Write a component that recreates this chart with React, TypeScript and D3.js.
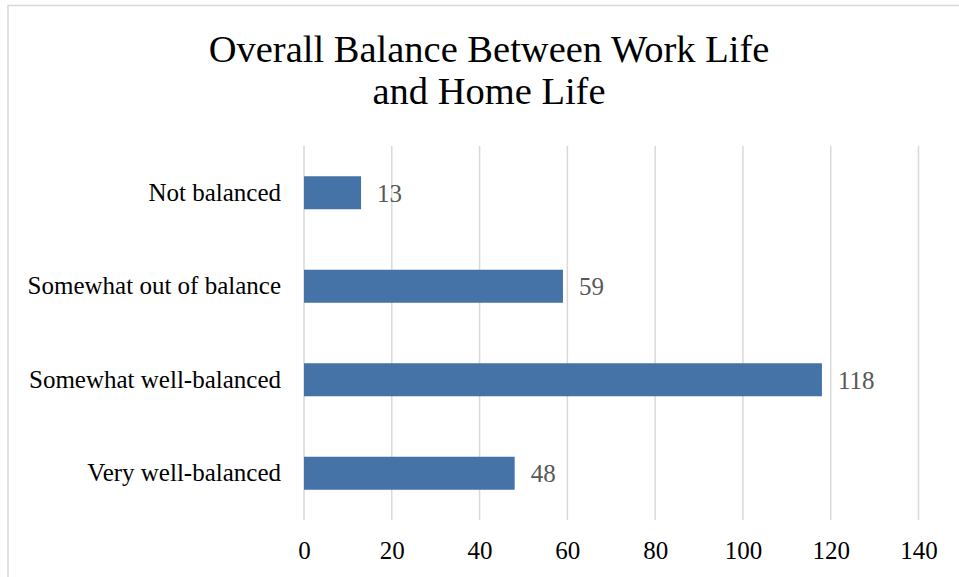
import React, { useEffect, useRef } from 'react';
import * as d3 from 'd3';

const categories = ['Not balanced', 'Somewhat out of balance', 'Somewhat well-balanced', 'Very well-balanced'];
const counts = [13, 59, 118, 48];
const xTicks = [0, 20, 40, 60, 80, 100, 120, 140];
const titleLines = ['Overall Balance Between Work Life', 'and Home Life'];

const W = 959;
const H = 577;
const FONT = '"Liberation Serif", "DejaVu Serif", serif';

export default function App() {
  const svgRef = useRef<SVGSVGElement>(null);

  useEffect(() => {
    if (!svgRef.current) return;
    const svg = d3.select(svgRef.current);
    svg.selectAll('*').remove();

    // chart frame (only left + top edges are visible in the picture)
    svg.append('rect')
      .attr('x', 8).attr('y', 5.5)
      .attr('width', W + 10).attr('height', H + 10)
      .attr('fill', '#fff')
      .attr('stroke', '#d9d9d9')
      .attr('stroke-width', 1.5);

    const x = d3.scaleLinear().domain([0, 140]).range([304, 918.5]);
    const y = d3.scaleBand<string>()
      .domain(categories)
      .range([146, 520])
      .paddingInner(0.647)
      .paddingOuter(0.3235);

    // title
    svg.append('text')
      .attr('x', 489)
      .attr('text-anchor', 'middle')
      .style('font-family', FONT)
      .style('font-size', '38.5px')
      .attr('fill', '#000')
      .selectAll('tspan')
      .data(titleLines)
      .join('tspan')
      .attr('x', 489)
      .attr('y', (_, i) => 62 + i * 42)
      .text(d => d);

    // gridlines
    svg.append('g')
      .selectAll('line')
      .data(xTicks)
      .join('line')
      .attr('x1', d => x(d)).attr('x2', d => x(d))
      .attr('y1', 146).attr('y2', 520)
      .attr('stroke', '#d9d9d9')
      .attr('stroke-width', 1.5);

    // x axis labels
    const xAxis = svg.append('g')
      .attr('transform', 'translate(0,520)')
      .call(d3.axisBottom(x).tickValues(xTicks).tickSize(0).tickPadding(21).tickFormat(d3.format('d')));
    xAxis.select('.domain').remove();
    xAxis.selectAll('text')
      .style('font-family', FONT)
      .style('font-size', '25px')
      .attr('fill', '#000');

    // category labels
    const yAxis = svg.append('g')
      .attr('transform', 'translate(304,0)')
      .call(d3.axisLeft(y).tickSize(0).tickPadding(23));
    yAxis.select('.domain').remove();
    yAxis.selectAll('text')
      .style('font-family', FONT)
      .style('font-size', '25px')
      .attr('fill', '#000');

    // bars
    svg.append('g')
      .selectAll('rect')
      .data(categories)
      .join('rect')
      .attr('x', x(0))
      .attr('y', d => y(d)!)
      .attr('width', (_, i) => x(counts[i]) - x(0))
      .attr('height', y.bandwidth())
      .attr('fill', '#4673a7');

    // value labels
    svg.append('g')
      .selectAll('text')
      .data(categories)
      .join('text')
      .attr('x', (_, i) => x(counts[i]) + 16)
      .attr('y', d => y(d)! + y.bandwidth() / 2)
      .attr('dy', '0.35em')
      .style('font-family', FONT)
      .style('font-size', '25px')
      .attr('fill', '#595959')
      .text((_, i) => String(counts[i]));
  }, []);

  return (
    <svg
      ref={svgRef}
      width={W}
      height={H}
      style={{ position: 'absolute', left: 0, top: 0, display: 'block', background: '#fff' }}
    />
  );
}
